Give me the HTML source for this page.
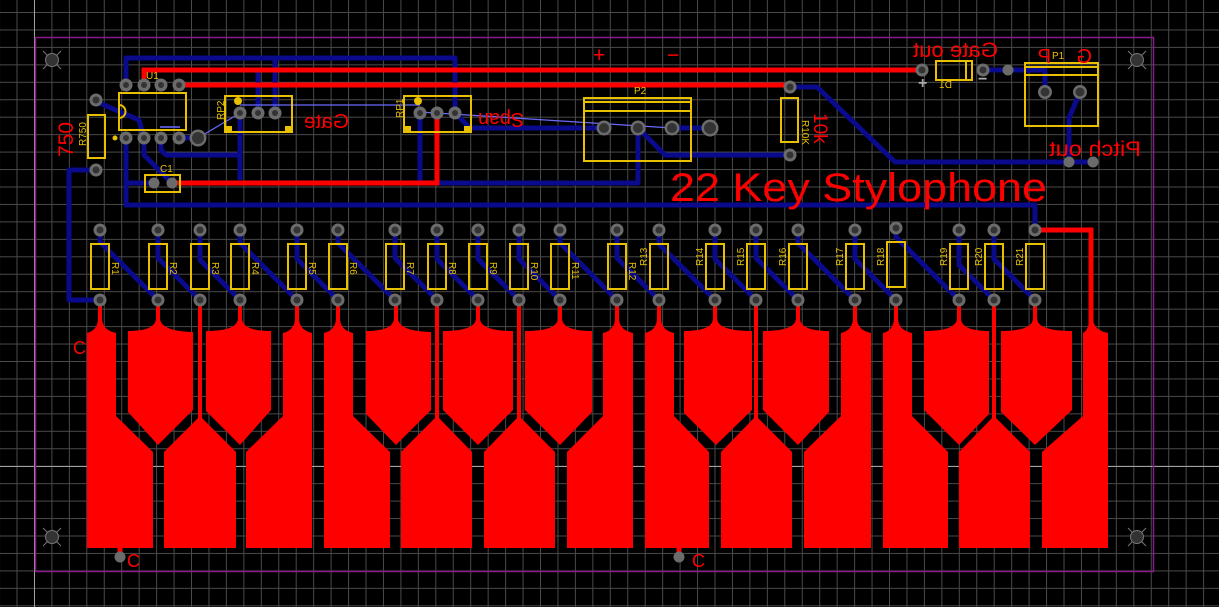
<!DOCTYPE html>
<html><head><meta charset="utf-8"><style>
html,body{margin:0;padding:0;background:#000;}
svg{display:block;}
text{font-family:"Liberation Sans",sans-serif;}
</style></head><body>
<svg width="1219" height="607" viewBox="0 0 1219 607" xmlns="http://www.w3.org/2000/svg">
<defs>
<pattern id="g" x="16.5" y="12" width="17.45" height="17.45" patternUnits="userSpaceOnUse">
<path d="M0.5 0V17.45M0 0.5H17.45" stroke="#4a4a4a" stroke-width="1" fill="none"/>
</pattern>
</defs>
<rect width="1219" height="607" fill="#000"/>
<rect width="1219" height="607" fill="url(#g)"/>
<line x1="34.5" y1="0" x2="34.5" y2="607" stroke="#a0a0a0" stroke-width="1"/>
<line x1="0" y1="466.5" x2="1219" y2="466.5" stroke="#a0a0a0" stroke-width="1"/>
<rect x="35.5" y="37.5" width="1118" height="534" fill="none" stroke="#8a1a8a" stroke-width="1.5"/>

<g stroke="#777" stroke-width="1" fill="#333">
<g transform="translate(52,60)"><path d="M-9 -9L9 9M-9 9L9 -9"/><circle r="6.5"/></g>
<g transform="translate(1137,60)"><path d="M-9 -9L9 9M-9 9L9 -9"/><circle r="6.5"/></g>
<g transform="translate(52,537)"><path d="M-9 -9L9 9M-9 9L9 -9"/><circle r="6.5"/></g>
<g transform="translate(1137,537)"><path d="M-9 -9L9 9M-9 9L9 -9"/><circle r="6.5"/></g>
</g>

<g stroke="#0a0a8c" stroke-width="5" fill="none" stroke-linejoin="round">
<polyline points="126,85 126,58 455,58 455,113"/>
<line x1="275" y1="58" x2="275" y2="113"/>
<line x1="258" y1="72" x2="258" y2="113"/>
<polyline points="126,138 126,205 1035,205 1035,230"/>
<line x1="126" y1="183" x2="154" y2="183"/>
<polyline points="97,102 139,120 144,138"/>
<polyline points="144,138 144,155 172,183"/>
<polyline points="161,138 161,150 166,155 240,155"/>
<line x1="240" y1="113" x2="240" y2="180"/>
<line x1="179" y1="138" x2="198" y2="138"/>
<line x1="420" y1="113" x2="420" y2="183"/>
<polyline points="437,183 638,183 638,128"/>
<polyline points="455,113 470,128 604,128"/>
<polyline points="638,128 665,155 790,155"/>
<line x1="672" y1="128" x2="710" y2="128"/>
<polyline points="790,87 817,87 895,162 1093,162"/>
<polyline points="983,70 1045,70 1045,92"/>
<polyline points="1080,92 1069,118 1069,162"/>
<polyline points="100,300 69,300 69,170 96,170"/>
<polyline points="100,230 100,242 158,300"/>
<polyline points="158,230 158,258 200,300"/>
<polyline points="200,230 200,260 240,300"/>
<polyline points="240,230 240,243 297,300"/>
<polyline points="297,230 297,259 338,300"/>
<polyline points="338,230 338,243 395,300"/>
<polyline points="395,230 395,258 437,300"/>
<polyline points="437,230 437,259 478,300"/>
<polyline points="478,230 478,259 519,300"/>
<polyline points="519,230 519,259 560,300"/>
<polyline points="560,230 560,243 617,300"/>
<polyline points="617,230 617,258 659,300"/>
<polyline points="659,230 659,244 715,300"/>
<polyline points="715,230 715,259 756,300"/>
<polyline points="756,230 756,258 798,300"/>
<polyline points="798,230 798,243 855,300"/>
<polyline points="855,230 855,259 896,300"/>
<polyline points="896,230 896,237 959,300"/>
<polyline points="959,230 959,265 994,300"/>
<polyline points="994,230 994,259 1035,300"/>
</g>
<line x1="160" y1="127" x2="180" y2="127" stroke="#6a6aff" stroke-width="1.5"/>
<g stroke="#6a6aff" stroke-width="1.2">
<line x1="198" y1="138" x2="240" y2="113"/>
<line x1="240" y1="105" x2="420" y2="105"/>
<line x1="420" y1="112" x2="672" y2="128"/>
</g>

<g stroke="#ff0000" stroke-width="5" fill="none" stroke-linejoin="miter">
<polyline points="144,85 144,70 922,70"/>
<line x1="179" y1="85" x2="790" y2="85"/>
<polyline points="172,183 437,183 437,113"/>
<polyline points="1035,230 1091,230 1091,331"/>
<line x1="120" y1="548" x2="120" y2="557"/>
<line x1="679" y1="548" x2="679" y2="557"/>
</g>

<g fill="#ff0000">
<path d="M87,548 L87,333 Q98,330 98,318 L98,300 L102,300 L102,318 Q102,330 116,333 L116,416 L153,452 L153,548Z"/>
<path d="M324,548 L324,333 Q336,330 336,318 L336,300 L340,300 L340,318 Q340,330 353,333 L353,416 L390,452 L390,548Z"/>
<path d="M645,548 L645,333 Q657,330 657,318 L657,300 L661,300 L661,318 Q661,330 674,333 L674,416 L709,452 L709,548Z"/>
<path d="M883,548 L883,333 Q894,330 894,318 L894,300 L898,300 L898,318 Q898,330 912,333 L912,416 L948,452 L948,548Z"/>
<path d="M283,333 Q295,330 295,318 L295,300 L299,300 L299,318 Q299,330 312,333 L312,548 L246,548 L246,452 L283,416Z"/>
<path d="M603,333 Q615,330 615,318 L615,300 L619,300 L619,318 Q619,330 633,333 L633,548 L567,548 L567,452 L603,416Z"/>
<path d="M841,333 Q853,330 853,318 L853,300 L857,300 L857,318 Q857,330 871,333 L871,548 L804,548 L804,452 L841,416Z"/>
<path d="M1083,333 Q1089,330 1089,318 L1089,300 L1093,300 L1093,318 Q1093,330 1108,333 L1108,548 L1042,548 L1042,452 L1083,416Z"/>
<path d="M128,331 Q156,331 156,318 L156,300 L160,300 L160,318 Q160,331 193,332 L193,410 L158,445 L128,412Z"/>
<path d="M206,331 Q238,331 238,318 L238,300 L242,300 L242,318 Q242,331 271,331 L271,410 L240,445 L206,411Z"/>
<path d="M366,331 Q394,331 394,318 L394,300 L398,300 L398,318 Q398,331 431,332 L431,410 L396,445 L366,414Z"/>
<path d="M443,331 Q476,331 476,318 L476,300 L480,300 L480,318 Q480,331 513,331 L513,410 L478,445 L443,410Z"/>
<path d="M525,331 Q558,331 558,318 L558,300 L562,300 L562,318 Q562,331 592,331 L592,412 L560,445 L525,410Z"/>
<path d="M684,331 Q713,331 713,318 L713,300 L717,300 L717,318 Q717,331 752,331 L752,410 L716,445 L684,413Z"/>
<path d="M763,331 Q796,331 796,318 L796,300 L800,300 L800,318 Q800,331 829,331 L829,412 L798,445 L763,410Z"/>
<path d="M924,331 Q957,331 957,318 L957,300 L961,300 L961,318 Q961,331 989,331 L989,414 L959,445 L924,410Z"/>
<path d="M1001,331 Q1033,331 1033,318 L1033,300 L1037,300 L1037,318 Q1037,331 1072,331 L1072,410 L1035,445 L1001,412Z"/>
<path d="M198,300 L202,300 L202,418 L236,452 L236,548 L164,548 L164,452 L198,418Z"/>
<path d="M435,300 L439,300 L439,418 L472,452 L472,548 L401,548 L401,452 L435,418Z"/>
<path d="M517,300 L521,300 L521,418 L555,452 L555,548 L484,548 L484,452 L517,418Z"/>
<path d="M754,300 L758,300 L758,418 L792,452 L792,548 L721,548 L721,452 L754,418Z"/>
<path d="M992,300 L996,300 L996,418 L1030,452 L1030,548 L959,548 L959,452 L992,418Z"/>
</g>

<g fill="none" stroke="#e8c000" stroke-width="2">
<rect x="119" y="93" width="67" height="37"/>
<rect x="88" y="115" width="17" height="43"/>
<rect x="145" y="175" width="35" height="17"/>
<rect x="225" y="96" width="67" height="36"/>
<rect x="404" y="96" width="67" height="36"/>
<rect x="584" y="98" width="107" height="63"/>
<line x1="584" y1="102" x2="691" y2="102"/>
<line x1="584" y1="111" x2="691" y2="111"/>
<rect x="781" y="98" width="17" height="44"/>
<rect x="936" y="61" width="36" height="19"/>
<line x1="966" y1="61" x2="966" y2="80"/>
<rect x="1025" y="63" width="73" height="63"/>
<line x1="1025" y1="67" x2="1098" y2="67"/>
<line x1="1025" y1="75" x2="1098" y2="75"/>
<g>
<rect x="91" y="244" width="18" height="45"/><rect x="149" y="244" width="18" height="45"/>
<rect x="191" y="244" width="18" height="45"/><rect x="231" y="244" width="18" height="45"/>
<rect x="288" y="244" width="18" height="45"/><rect x="329" y="244" width="18" height="45"/>
<rect x="386" y="244" width="18" height="45"/><rect x="428" y="244" width="18" height="45"/>
<rect x="469" y="244" width="18" height="45"/><rect x="510" y="244" width="18" height="45"/>
<rect x="551" y="244" width="18" height="45"/><rect x="608" y="244" width="18" height="45"/>
<rect x="650" y="244" width="18" height="45"/><rect x="706" y="244" width="18" height="45"/>
<rect x="747" y="244" width="18" height="45"/><rect x="789" y="244" width="18" height="45"/>
<rect x="846" y="244" width="18" height="45"/><rect x="887" y="242" width="18" height="45"/>
<rect x="950" y="244" width="18" height="45"/><rect x="985" y="244" width="18" height="45"/>
<rect x="1026" y="244" width="18" height="45"/>
</g>
</g>
<path d="M119,105 A6,6 0 0 1 119,118" fill="none" stroke="#e8c000" stroke-width="2"/>
<g fill="#e8c000">
<circle cx="115" cy="138" r="2.5"/>
<circle cx="238" cy="101" r="4"/>
<circle cx="418" cy="101" r="4"/>
<rect x="226" y="126" width="6" height="6"/><rect x="285" y="126" width="6" height="6"/>
<rect x="405" y="126" width="6" height="6"/><rect x="464" y="126" width="6" height="6"/>
</g>

<g fill="#6b6b6b">
<circle cx="126" cy="85" r="6.5"/><circle cx="144" cy="85" r="6.5"/><circle cx="161" cy="85" r="6.5"/><circle cx="179" cy="85" r="6.5"/>
<circle cx="126" cy="138" r="6.5"/><circle cx="144" cy="138" r="6.5"/><circle cx="161" cy="138" r="6.5"/><circle cx="179" cy="138" r="6.5"/>
<circle cx="198" cy="138" r="8.5"/>
<circle cx="96" cy="100" r="6.5"/><circle cx="96" cy="170" r="6.5"/>
<circle cx="154" cy="183" r="5.5"/><circle cx="172" cy="183" r="5.5"/>
<circle cx="240" cy="113" r="6.5"/><circle cx="258" cy="113" r="6.5"/><circle cx="275" cy="113" r="6.5"/>
<circle cx="420" cy="113" r="6.5"/><circle cx="437" cy="113" r="6.5"/><circle cx="455" cy="113" r="6.5"/>
<circle cx="604" cy="128" r="7.5"/><circle cx="638" cy="128" r="7.5"/><circle cx="672" cy="128" r="7.5"/><circle cx="710" cy="128" r="8.5"/>
<circle cx="790" cy="87" r="6.5"/><circle cx="790" cy="155" r="6.5"/>
<circle cx="922" cy="70" r="6.5"/><circle cx="983" cy="70" r="6.5"/><circle cx="1008" cy="70" r="5.5"/>
<circle cx="1045" cy="92" r="7"/><circle cx="1080" cy="92" r="7"/>
<circle cx="1069" cy="162" r="5.5"/><circle cx="1093" cy="162" r="5.5"/>
<circle cx="120" cy="557" r="5.5"/><circle cx="679" cy="557" r="5.5"/>
</g>
<g fill="#6b6b6b">
<circle cx="100" cy="230" r="6.5"/><circle cx="158" cy="230" r="6.5"/><circle cx="200" cy="230" r="6.5"/><circle cx="240" cy="230" r="6.5"/>
<circle cx="297" cy="230" r="6.5"/><circle cx="338" cy="230" r="6.5"/><circle cx="395" cy="230" r="6.5"/><circle cx="437" cy="230" r="6.5"/>
<circle cx="478" cy="230" r="6.5"/><circle cx="519" cy="230" r="6.5"/><circle cx="560" cy="230" r="6.5"/><circle cx="617" cy="230" r="6.5"/>
<circle cx="659" cy="230" r="6.5"/><circle cx="715" cy="230" r="6.5"/><circle cx="756" cy="230" r="6.5"/><circle cx="798" cy="230" r="6.5"/>
<circle cx="855" cy="230" r="6.5"/><circle cx="896" cy="228" r="6.5"/><circle cx="959" cy="230" r="6.5"/><circle cx="994" cy="230" r="6.5"/>
<circle cx="1035" cy="230" r="6.5"/>
<circle cx="100" cy="300" r="6.5"/><circle cx="158" cy="300" r="6.5"/><circle cx="200" cy="300" r="6.5"/><circle cx="240" cy="300" r="6.5"/>
<circle cx="297" cy="300" r="6.5"/><circle cx="338" cy="300" r="6.5"/><circle cx="395" cy="300" r="6.5"/><circle cx="437" cy="300" r="6.5"/>
<circle cx="478" cy="300" r="6.5"/><circle cx="519" cy="300" r="6.5"/><circle cx="560" cy="300" r="6.5"/><circle cx="617" cy="300" r="6.5"/>
<circle cx="659" cy="300" r="6.5"/><circle cx="715" cy="300" r="6.5"/><circle cx="756" cy="300" r="6.5"/><circle cx="798" cy="300" r="6.5"/>
<circle cx="855" cy="300" r="6.5"/><circle cx="896" cy="300" r="6.5"/><circle cx="959" cy="300" r="6.5"/><circle cx="994" cy="300" r="6.5"/>
<circle cx="1035" cy="300" r="6.5"/>
</g>
<g fill="#333">
<circle cx="126" cy="85" r="3"/><circle cx="144" cy="85" r="3"/><circle cx="161" cy="85" r="3"/><circle cx="179" cy="85" r="3"/>
<circle cx="126" cy="138" r="3"/><circle cx="144" cy="138" r="3"/><circle cx="161" cy="138" r="3"/><circle cx="179" cy="138" r="3"/>
<circle cx="198" cy="138" r="6"/><circle cx="710" cy="128" r="6"/>
<circle cx="96" cy="100" r="3.5"/><circle cx="96" cy="170" r="3.5"/>
<circle cx="240" cy="113" r="3"/><circle cx="258" cy="113" r="3"/><circle cx="275" cy="113" r="3"/>
<circle cx="420" cy="113" r="3"/><circle cx="437" cy="113" r="3"/><circle cx="455" cy="113" r="3"/>
<circle cx="604" cy="128" r="5"/><circle cx="638" cy="128" r="5"/><circle cx="672" cy="128" r="5"/>
<circle cx="790" cy="87" r="3.5"/><circle cx="790" cy="155" r="3.5"/>
<circle cx="922" cy="70" r="3.5"/><circle cx="983" cy="70" r="3.5"/>
<circle cx="1045" cy="92" r="4.5"/><circle cx="1080" cy="92" r="4.5"/>
<circle cx="100" cy="230" r="3.5"/><circle cx="158" cy="230" r="3.5"/><circle cx="200" cy="230" r="3.5"/><circle cx="240" cy="230" r="3.5"/>
<circle cx="297" cy="230" r="3.5"/><circle cx="338" cy="230" r="3.5"/><circle cx="395" cy="230" r="3.5"/><circle cx="437" cy="230" r="3.5"/>
<circle cx="478" cy="230" r="3.5"/><circle cx="519" cy="230" r="3.5"/><circle cx="560" cy="230" r="3.5"/><circle cx="617" cy="230" r="3.5"/>
<circle cx="659" cy="230" r="3.5"/><circle cx="715" cy="230" r="3.5"/><circle cx="756" cy="230" r="3.5"/><circle cx="798" cy="230" r="3.5"/>
<circle cx="855" cy="230" r="3.5"/><circle cx="896" cy="228" r="3.5"/><circle cx="959" cy="230" r="3.5"/><circle cx="994" cy="230" r="3.5"/>
<circle cx="1035" cy="230" r="3.5"/>
<circle cx="100" cy="300" r="3.5"/><circle cx="158" cy="300" r="3.5"/><circle cx="200" cy="300" r="3.5"/><circle cx="240" cy="300" r="3.5"/>
<circle cx="297" cy="300" r="3.5"/><circle cx="338" cy="300" r="3.5"/><circle cx="395" cy="300" r="3.5"/><circle cx="437" cy="300" r="3.5"/>
<circle cx="478" cy="300" r="3.5"/><circle cx="519" cy="300" r="3.5"/><circle cx="560" cy="300" r="3.5"/><circle cx="617" cy="300" r="3.5"/>
<circle cx="659" cy="300" r="3.5"/><circle cx="715" cy="300" r="3.5"/><circle cx="756" cy="300" r="3.5"/><circle cx="798" cy="300" r="3.5"/>
<circle cx="855" cy="300" r="3.5"/><circle cx="896" cy="300" r="3.5"/><circle cx="959" cy="300" r="3.5"/><circle cx="994" cy="300" r="3.5"/>
<circle cx="1035" cy="300" r="3.5"/>
</g>

<g fill="#e8c000" font-size="10">
<text x="146" y="79">U1</text>
<text x="160" y="172">C1</text>
<text x="634" y="94">P2</text>
<text x="1052" y="59">P1</text>
<text transform="translate(86,146) rotate(-90)">R750</text>
<text transform="translate(224,120) rotate(-90)">RP2</text>
<text transform="translate(403,118) rotate(-90)">RP1</text>
<text transform="translate(802,120) rotate(90)">R10K</text>
<text transform="translate(952,88) scale(-1,1)">D1</text>
<text transform="translate(112,262) rotate(90)">R1</text>
<text transform="translate(170,262) rotate(90)">R2</text>
<text transform="translate(212,262) rotate(90)">R3</text>
<text transform="translate(252,262) rotate(90)">R4</text>
<text transform="translate(309,262) rotate(90)">R5</text>
<text transform="translate(350,262) rotate(90)">R6</text>
<text transform="translate(407,262) rotate(90)">R7</text>
<text transform="translate(449,262) rotate(90)">R8</text>
<text transform="translate(490,262) rotate(90)">R9</text>
<text transform="translate(531,262) rotate(90)">R10</text>
<text transform="translate(572,262) rotate(90)">R11</text>
<text transform="translate(629,262) rotate(90)">R12</text>
<text transform="translate(647,266) rotate(-90)">R13</text>
<text transform="translate(703,266) rotate(-90)">R14</text>
<text transform="translate(744,266) rotate(-90)">R15</text>
<text transform="translate(786,266) rotate(-90)">R16</text>
<text transform="translate(843,266) rotate(-90)">R17</text>
<text transform="translate(884,266) rotate(-90)">R18</text>
<text transform="translate(947,266) rotate(-90)">R19</text>
<text transform="translate(982,266) rotate(-90)">R20</text>
<text transform="translate(1023,266) rotate(-90)">R21</text>
</g>
<g fill="#aaa" font-size="16" font-weight="bold">
<text x="918" y="88">+</text>
<text x="978" y="84">−</text>
</g>

<g fill="#ff0000">
<text transform="translate(73,157) rotate(-90)" font-size="21">750</text>
<text transform="translate(349,128) scale(-1,1)" font-size="20" textLength="45" lengthAdjust="spacingAndGlyphs">Gate</text>
<text transform="translate(524,113) rotate(180)" font-size="20" textLength="46" lengthAdjust="spacingAndGlyphs">Span</text>
<text x="593" y="62" font-size="21">+</text>
<text x="667" y="62" font-size="21">−</text>
<text transform="translate(998,57) scale(-1,1)" font-size="21" textLength="85" lengthAdjust="spacingAndGlyphs">Gate out</text>
<text transform="translate(1141,156) scale(-1,1)" font-size="21" textLength="92" lengthAdjust="spacingAndGlyphs">Pitch out</text>
<text transform="translate(1051,63) scale(-1,1)" font-size="20">P</text>
<text transform="translate(1092,63) scale(-1,1)" font-size="20">G</text>
<text transform="translate(814,113) rotate(90)" font-size="19">10k</text>
<text x="670" y="201" font-size="40" textLength="377" lengthAdjust="spacingAndGlyphs">22 Key Stylophone</text>
<text x="73" y="354" font-size="18">C</text>
<text x="127" y="567" font-size="18">C</text>
<text x="692" y="567" font-size="18">C</text>
</g>
</svg>
</body></html>
